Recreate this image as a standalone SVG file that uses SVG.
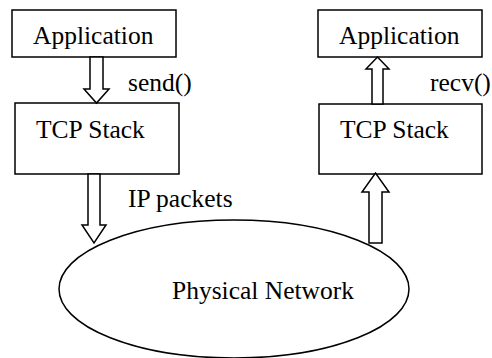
<svg xmlns="http://www.w3.org/2000/svg" width="492" height="358" viewBox="0 0 492 358">
<style>
.box{fill:#fff;stroke:#000;stroke-width:1.5}
.arr{fill:#fff;stroke:#000;stroke-width:1.5;stroke-linejoin:miter}
.t{font-family:'Liberation Serif',serif;font-size:25.5px;fill:#000}
</style>
<rect width="492" height="358" fill="#fff"/>
<g id="net"><ellipse cx="234" cy="289" rx="175" ry="69" class="box"/><text class="t" x="172" y="299">Physical Network</text></g>
<g id="app1"><rect x="12" y="10" width="164" height="47" class="box"/><text class="t" x="33" y="44">Application</text></g>
<g id="tcp1"><rect x="15" y="103" width="164" height="71" class="box"/><text class="t" x="36" y="138">TCP Stack</text></g>
<g id="app2"><rect x="318" y="10" width="164" height="47" class="box"/><text class="t" x="339" y="44">Application</text></g>
<g id="tcp2"><rect x="319" y="104" width="163" height="70" class="box"/><text class="t" x="340" y="138">TCP Stack</text></g>
<g id="connectors">
<polygon class="arr" points="90,57 103,57 103,89 109,89 96.5,103 84,89 90,89"/>
<polygon class="arr" points="88,174 100,174 100,225 106,225 94,243 82,225 88,225"/>
<polygon class="arr" points="372,104 383,104 383,69 389,69 377.5,57 366,69 372,69"/>
<polygon class="arr" points="369,243 382,243 382,192 389,192 375.5,173 362,192 369,192"/>
<text class="t" x="128" y="91">send()</text>
<text class="t" x="430" y="91">recv()</text>
<text class="t" x="128" y="207">IP packets</text>
</g>
</svg>
